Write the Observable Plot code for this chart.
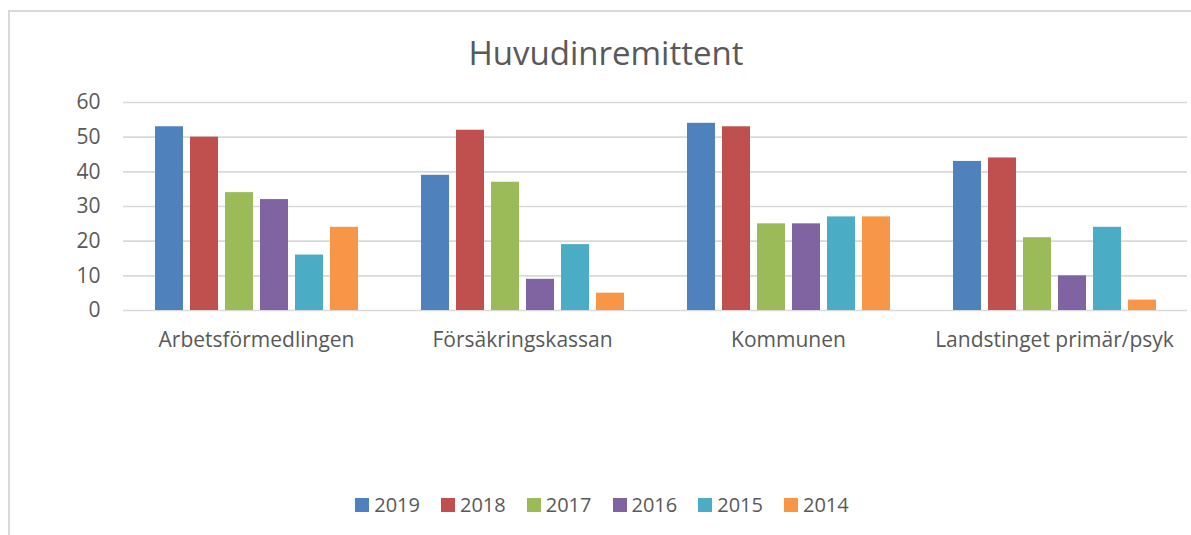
<!DOCTYPE html>
<html>
<head>
<meta charset="utf-8">
<script src="https://cdn.jsdelivr.net/npm/d3@7"></script>
<script src="https://cdn.jsdelivr.net/npm/@observablehq/plot@0.6"></script>
<style>
  body { margin: 0; background: #fff; font-family: "Open Sans", sans-serif; }
  #frame { position: absolute; left: 8px; top: 10px; width: 1183px; height: 525px;
           border-left: 2px solid #d9d9d9; border-top: 2px solid #d9d9d9; box-sizing: border-box; }
  #title { position: absolute; left: 0; top: 36px; width: 1212px; text-align: center;
           font-size: 33px; color: #595959; line-height: 1; }
  #chart { position: absolute; left: 0; top: 0; }
  #legend { position: absolute; left: 0; top: 492px; width: 1204px; display: flex;
            justify-content: center; font-size: 20px; color: #595959; line-height: 26px; }
  .item { display: flex; align-items: center; margin: 0 10.5px; }
  .sw { width: 14px; height: 14px; margin-right: 5px; }
</style>
</head>
<body>
<div id="frame"></div>
<div id="chart"></div>
<div id="title">Huvudinremittent</div>
<div id="legend"></div>
<script>
const groups = ["Arbetsförmedlingen", "Försäkringskassan", "Kommunen", "Landstinget primär/psyk"];
const years = ["2019", "2018", "2017", "2016", "2015", "2014"];
const v2019 = [53, 39, 54, 43];
const v2018 = [50, 52, 53, 44];
const v2017 = [34, 37, 25, 21];
const v2016 = [32, 9, 25, 10];
const v2015 = [16, 19, 27, 24];
const v2014 = [24, 5, 27, 3];
const colors = ["#4f81bd", "#c0504d", "#9bbb59", "#8064a2", "#4bacc6", "#f79646"];
const yTicks = [0, 10, 20, 30, 40, 50, 60];

const series = [v2019, v2018, v2017, v2016, v2015, v2014];
const data = groups.flatMap((g, i) => years.map((y, j) => ({group: g, year: y, value: series[j][i]})));

const chart = Plot.plot({
  width: 1191,
  height: 360,
  marginLeft: 122,
  marginRight: 3,
  marginTop: 102,
  marginBottom: 50,
  style: {fontFamily: "Open Sans", fontSize: "21px", color: "#595959", background: "transparent", overflow: "visible"},
  fx: {domain: groups, padding: 0, label: null},
  x: {domain: years, paddingInner: 0.21, paddingOuter: 0.87, axis: null},
  y: {domain: [0, 60], label: null},
  color: {domain: years, range: colors},
  marks: [
    Plot.gridY(yTicks, {stroke: "#d9d9d9", strokeOpacity: 1, strokeWidth: 1.6}),
    Plot.axisY(yTicks, {tickSize: 0, tickPadding: 23, label: null, fill: "#595959"}),
    Plot.axisFx({anchor: "bottom", tickSize: 0, tickPadding: 22, label: null, fill: "#595959"}),
    Plot.barY(data, {fx: "group", x: "year", y: "value", fill: "year"})
  ]
});
document.getElementById("chart").appendChild(chart);

const legend = document.getElementById("legend");
years.forEach((y, i) => {
  const it = document.createElement("div");
  it.className = "item";
  const sw = document.createElement("div");
  sw.className = "sw";
  sw.style.background = colors[i];
  const t = document.createElement("span");
  t.textContent = y;
  it.appendChild(sw); it.appendChild(t);
  legend.appendChild(it);
});
</script>
</body>
</html>
